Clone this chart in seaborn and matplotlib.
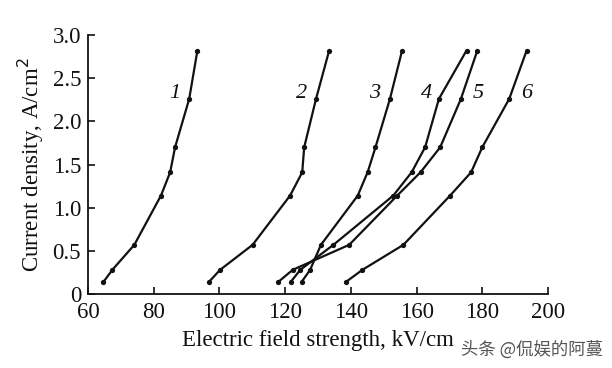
import matplotlib
matplotlib.use("Agg")
import matplotlib.pyplot as plt
import seaborn as sns
import pandas as pd

# Data
current_density = [0.14, 0.28, 0.57, 1.14, 1.41, 1.70, 2.26, 2.82]
field_1 = [64.7, 67.4, 74.1, 82.2, 85.0, 86.5, 90.8, 93.3]
field_2 = [96.8, 100.2, 110.1, 121.5, 125.2, 125.8, 129.4, 133.4]
field_3 = [125.0, 127.6, 130.9, 142.1, 145.1, 147.5, 151.9, 155.6]
field_4 = [121.7, 124.6, 134.7, 152.9, 158.5, 162.6, 166.8, 175.2]
field_5 = [117.9, 122.3, 139.5, 154.1, 161.2, 167.2, 173.5, 178.5]
field_6 = [138.5, 143.5, 156.0, 170.2, 176.6, 180.0, 188.2, 193.5]
curve_names = ["1", "2", "3", "4", "5", "6"]
label_x = [86.5, 125.1, 147.3, 162.9, 178.7, 193.6]
label_y = [2.32, 2.32, 2.32, 2.32, 2.32, 2.32]
x_ticks = [60, 80, 100, 120, 140, 160, 180, 200]
y_ticks = [0, 0.5, 1.0, 1.5, 2.0, 2.5, 3.0]
y_tick_labels = ["0", "0.5", "1.0", "1.5", "2.0", "2.5", "3.0"]

fields = [field_1, field_2, field_3, field_4, field_5, field_6]
rows = []
for name, fx in zip(curve_names, fields):
    for xv, yv in zip(fx, current_density):
        rows.append({"curve": name, "E": xv, "J": yv})
df = pd.DataFrame(rows)

sns.set_theme(style="ticks")
plt.rcParams["font.family"] = ["Liberation Serif", "DejaVu Serif"]

fig = plt.figure(figsize=(6.12, 3.68), dpi=100)
ax = fig.add_axes([0.1438, 0.201, 0.7516, 0.7039])

sns.lineplot(data=df, x="E", y="J", units="curve", estimator=None, sort=False,
             color="#111111", lw=1.6, marker="o", markersize=3.8,
             markeredgewidth=0, ax=ax, legend=False)

for name, lx, ly in zip(curve_names, label_x, label_y):
    ax.text(lx, ly, name, fontsize=16, style="italic", ha="center", va="center",
            color="#111111")

ax.set_xlim(60, 200)
ax.set_ylim(0, 3.0)
ax.set_xticks(x_ticks)
ax.set_xticklabels([str(t) for t in x_ticks])
ax.set_yticks(y_ticks)
ax.set_yticklabels(y_tick_labels)
ax.tick_params(direction="in", length=5, width=1.2, labelsize=16.5, colors="#111111")
ax.tick_params(axis="x", pad=6)
ax.tick_params(axis="y", pad=5)
for s in ["top", "right"]:
    ax.spines[s].set_visible(False)
for s in ["left", "bottom"]:
    ax.spines[s].set_linewidth(1.3)
    ax.spines[s].set_color("#111111")

ax.set_xlabel("Electric field strength, kV/cm", fontsize=16.5, color="#111111", labelpad=5)
ax.set_ylabel("Current density, A/cm$^2$", fontsize=16.5, color="#111111", labelpad=5)

fig.text(0.985, 0.05, "头条 @侃娱的阿蔓", fontsize=12.5, color="#555555", ha="right",
         va="center", family=["Noto Sans CJK SC", "DejaVu Sans"])

fig.savefig("out.png", dpi=100, facecolor="white")
